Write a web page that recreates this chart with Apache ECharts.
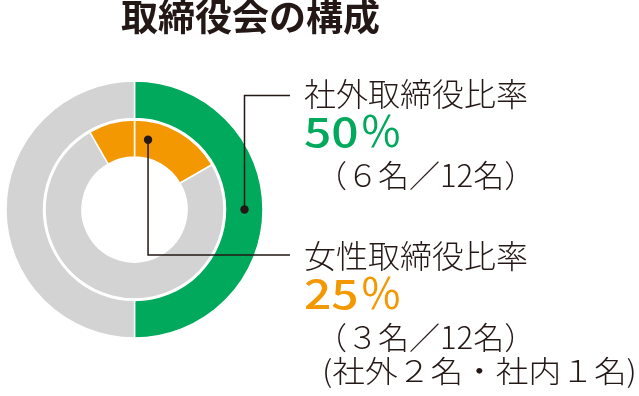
<!DOCTYPE html>
<html><head><meta charset="utf-8">
<script src="https://cdn.jsdelivr.net/npm/echarts@6/dist/echarts.min.js"></script>
<style>html,body{margin:0;padding:0;background:#fff}#c{width:639px;height:396px}</style>
</head><body><div id="c"></div>
<script>
var title = '取締役会の構成';
var outerNames = ['社外取締役', '社内取締役'];
var outerValues = [6, 6];
var innerNames = ['女性（社外）', '男性', '女性（社内）'];
var innerValues = [2, 9, 1];
var label1 = ['社外取締役比率', '50', '％', '（６名／12名）'];
var label2 = ['女性取締役比率', '25', '％', '（３名／12名）', '(社外２名・社内１名)'];

var GREEN = '#00a95c', ORANGE = '#f39800', GRAY = '#d3d3d3', INK = '#231815';
var CX = 134.5, CY = 209.5;
var FONT = '"Noto Sans CJK JP", "Noto Sans", sans-serif';

var chart = echarts.init(document.getElementById('c'), null, {renderer: 'canvas'});

function txt(x, y, text, size, color, weight, sx) {
  return {type: 'text', z: 100, x: x, y: y, scaleX: sx || 1, style: {text: text, fill: color,
    font: (weight || 'normal') + ' ' + size + 'px ' + FONT, verticalAlign: 'top', textVerticalAlign: 'top'}};
}
function line(pts) {
  return {type: 'polyline', z: 100, shape: {points: pts}, style: {stroke: INK, lineWidth: 1.5, fill: null}};
}
function dot(x, y) {
  return {type: 'circle', z: 101, shape: {cx: x, cy: y, r: 4.2}, style: {fill: INK}};
}

var d1 = [CX + 110, CY];
var a2 = 11 * Math.PI / 180;
var d2 = [CX + 71 * Math.sin(a2), CY - 71 * Math.cos(a2)];

chart.setOption({
  animation: false,
  series: [
    {type: 'pie', z: 1, center: [CX, CY], radius: [91, 128.5], startAngle: 90, clockwise: true,
     label: {show: false}, labelLine: {show: false}, silent: true,
     itemStyle: {borderColor: '#fff', borderWidth: 1.5},
     data: outerNames.map(function (n, i) { return {name: n, value: outerValues[i], itemStyle: {color: i === 0 ? GREEN : GRAY}}; })},
    {type: 'pie', z: 1, center: [CX, CY], radius: [52.5, 89.5], startAngle: 90, clockwise: true,
     label: {show: false}, labelLine: {show: false}, silent: true,
     itemStyle: {borderColor: '#fff', borderWidth: 1.5},
     data: innerNames.map(function (n, i) { return {name: n, value: innerValues[i], itemStyle: {color: i === 1 ? GRAY : ORANGE}}; })}
  ],
  graphic: {elements: [
    txt(121, -2, title, 37, INK, 'bold'),
    line([d1, [d1[0], 95.5], [290, 95.5]]),
    dot(d1[0], d1[1]),
    line([d2, [d2[0], 255], [290, 255]]),
    dot(d2[0], d2[1]),
    txt(304, 78, label1[0], 32, INK, '300'),
    txt(304, 112, label1[1], 40, GREEN, '500', 1.2),
    txt(360, 110, label1[2], 42, GREEN, 'normal'),
    txt(316, 160, label1[3], 31, INK, '300'),
    txt(304, 240, label2[0], 32, INK, '300'),
    txt(304, 274, label2[1], 40, ORANGE, '500', 1.2),
    txt(360, 272, label2[2], 42, ORANGE, 'normal'),
    txt(316, 322, label2[3], 31, INK, '300'),
    txt(322, 356, label2[4], 30, INK, '300', 1.09)
  ]}
});
</script></body></html>
